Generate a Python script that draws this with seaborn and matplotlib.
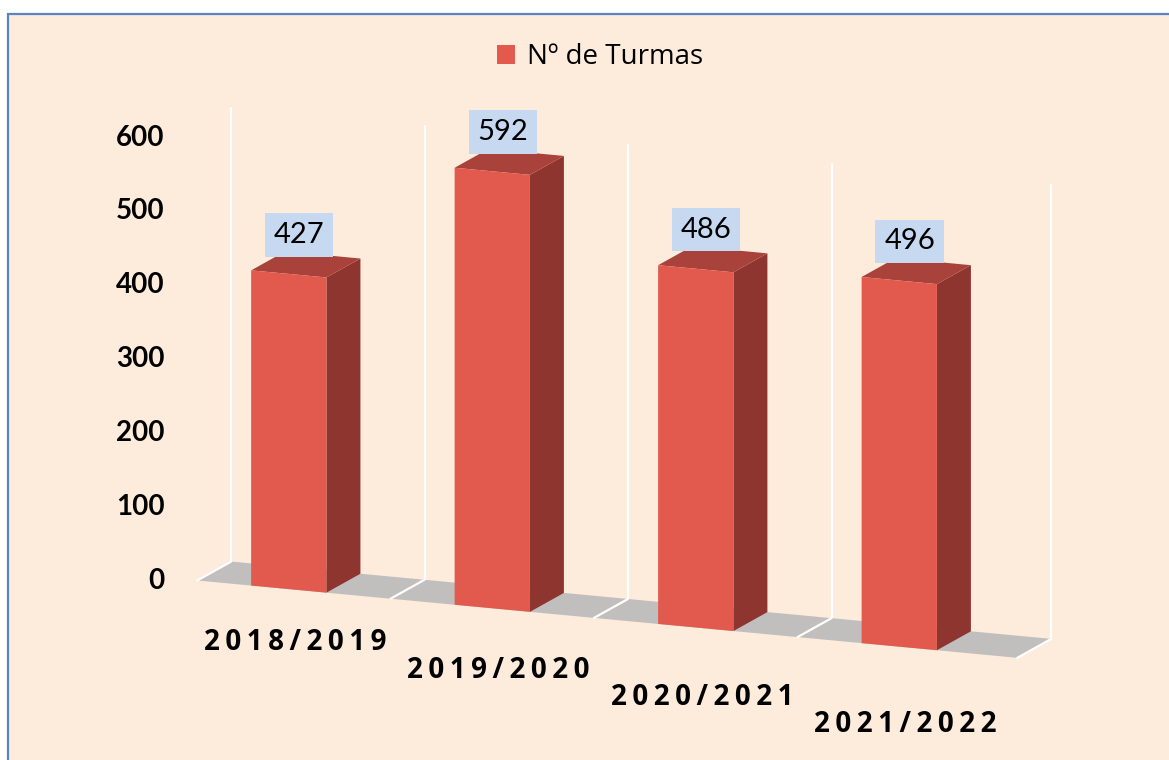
import numpy as np
import seaborn as sns
import matplotlib.pyplot as plt
from matplotlib.patches import Polygon, Rectangle
from matplotlib.transforms import Affine2D

# Data
anos = ["2018/2019", "2019/2020", "2020/2021", "2021/2022"]
turmas = [427, 592, 486, 496]
serie = "Nº de Turmas"
yticks = [0, 100, 200, 300, 400, 500, 600]

# Colours
BG = "#FDEBDC"
FRONT = "#E15A4D"
SIDE = "#8E352F"
TOP = "#A9423A"
FLOOR = "#C1BEBE"
LABEL_BOX = "#C6D9F1"
BORDER = "#5B83C0"

# fake 3D: depth offset and floor shear (data units)
DX, DY = 0.167, 30
SHEAR, LIFT = 26, 15
WALL_TOP = 645

sns.set_theme(style="white")
plt.rcParams["font.family"] = ["Open Sans", "DejaVu Sans"]

fig = plt.figure(figsize=(11.69, 7.60), dpi=100, facecolor="white")
fig.patches.append(Rectangle((8 / 1169, -0.01), 1.1, 0.9916, transform=fig.transFigure,
                             facecolor=BG, edgecolor=BORDER, linewidth=1.6, zorder=-10))

ax = fig.add_axes([0.16, 0.0743, 0.6963, 0.8353])
ax.set_facecolor("none")

sns.barplot(x=anos, y=turmas, color=FRONT, width=0.37, saturation=1,
            label=serie, ax=ax, zorder=3)

ax.set_xlim(-0.5, len(anos) - 0.5)
ax.set_ylim(-170, 690)

shear = Affine2D(np.array([[1, 0, 0], [-SHEAR, 1, -LIFT], [0, 0, 1]])) + ax.transData

# floor strip
fx0, fx1 = -0.45, len(anos) - 0.42
ax.add_patch(Polygon([(fx0, 0), (fx1, 0), (fx1 + DX, DY), (fx0 + DX, DY)],
                     closed=True, facecolor=FLOOR, edgecolor="none",
                     transform=shear, zorder=1, clip_on=False))

# wall gridlines and floor dividers
for k in range(len(anos) + 1):
    xb = k - 0.5 if k < len(anos) else fx1
    xb = max(xb, fx0)
    ax.plot([xb + DX, xb + DX], [DY, WALL_TOP], color="white", lw=1.6,
            transform=shear, zorder=0.5, clip_on=False)
    ax.plot([xb, xb + DX], [0, DY], color="white", lw=1.6,
            transform=shear, zorder=1.5, clip_on=False)

# bars: shear the front faces and add side / top faces
for p, v in zip(ax.patches, turmas):
    p.set_transform(shear)
    p.set_edgecolor("none")
    p.set_clip_on(False)
    x0, w, h = p.get_x(), p.get_width(), p.get_height()
    side = [(x0 + w, 0), (x0 + w, h), (x0 + w + DX, h + DY), (x0 + w + DX, DY)]
    top = [(x0, h), (x0 + w, h), (x0 + w + DX, h + DY), (x0 + DX, h + DY)]
    ax.add_patch(Polygon(side, closed=True, facecolor=SIDE, edgecolor="none",
                         transform=shear, zorder=2.9, clip_on=False))
    ax.add_patch(Polygon(top, closed=True, facecolor=TOP, edgecolor="none",
                         transform=shear, zorder=2.9, clip_on=False))
    ax.annotate(str(v), xy=(x0 + DX * 0.4, h + DY * 0.7), xycoords=shear,
                xytext=(6.5, 6), textcoords="offset points",
                ha="left", va="bottom", fontsize=21, color="black",
                family=["Lato", "DejaVu Sans"], zorder=5,
                bbox=dict(boxstyle="square,pad=0.3", facecolor=LABEL_BOX, edgecolor="none"))

# staggered category labels
for i, a in enumerate(anos):
    ax.text(i + 0.03, -72 - 11 * i, "\u2009".join(a), transform=shear, ha="center",
            va="center", fontsize=20, fontweight="bold", color="black", clip_on=False)

ax.set_xticks([])
ax.set_yticks(yticks)
ax.set_yticklabels([str(t) for t in yticks], fontsize=20, fontweight="bold",
                   family=["Lato", "DejaVu Sans"], color="black")
ax.tick_params(axis="y", length=0, pad=16)
sns.despine(ax=ax, left=True, bottom=True)
ax.grid(False)

ax.legend(loc="center", bbox_to_anchor=(600 / 1169, 1 - 57 / 760),
          bbox_transform=fig.transFigure, frameon=False, fontsize=20,
          handlelength=0.65, handleheight=0.65, handletextpad=0.4,
          labelcolor="black")

fig.savefig("out.png", dpi=100, facecolor=fig.get_facecolor())
